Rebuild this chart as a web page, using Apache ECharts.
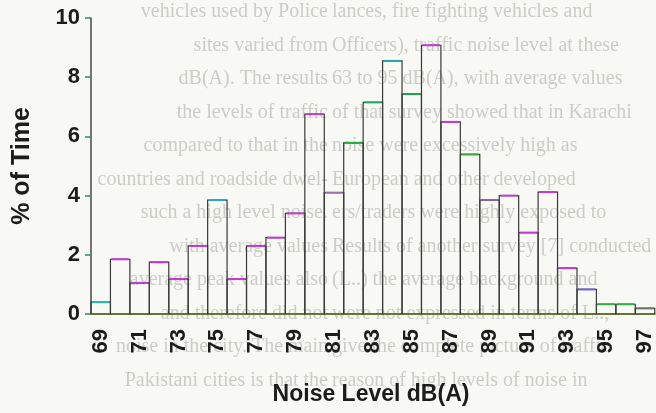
<!DOCTYPE html>
<html>
<head>
<meta charset="utf-8">
<script src="https://cdn.jsdelivr.net/npm/echarts@6/dist/echarts.min.js"></script>
<style>
html,body{margin:0;padding:0;background:#f8f8f4;}
#c{width:656px;height:413px;}
</style>
</head>
<body>
<div id="c"></div>
<script>
// Noise level categories dB(A)
const categories = ['69','70','71','72','73','74','75','76','77','78','79','80','81','82','83','84','85','86','87','88','89','90','91','92','93','94','95','96','97'];
// % of time
const percentTime = [0.4,1.85,1.05,1.75,1.18,2.3,3.85,1.18,2.3,2.58,3.4,6.75,4.1,5.78,7.15,8.55,7.43,9.08,6.49,5.39,3.85,4.0,2.75,4.12,1.55,0.83,0.33,0.33,0.19];
const yTicks = [0,2,4,6,8,10];
// colour fringe on each bar top (scan look)
const topColors = ['#2ab5ad','#c23ad2','#c23ad2','#c23ad2','#c23ad2','#c23ad2','#2aa6c4','#c23ad2','#c23ad2','#c23ad2','#c23ad2','#b548c0','#9a70a8','#22b045','#22a865','#22a8a0','#22a055','#c23ad2','#c23ad2','#3aa535','#8a62b2','#b848c4','#c23ad2','#c23ad2','#c23ad2','#6a62d2','#30b040','#30b040','#707070'];
// faint page text behind the figure
const pageTextLeft = ['vehicles used by Police','sites varied from','dB(A). The results','the levels of traffic','compared to that in the','countries and roadside dwel-','such a high level noise.','with average values','average peak values also','and therefore did not','noise in the city. The main','Pakistani cities is that the'];
const pageTextRight = ['lances, fire fighting vehicles and','Officers), traffic noise level at these','63 to 95 dB(A), with average values','of that survey showed that in Karachi','noise were excessively high as','European and other developed','ers/traders were highly exposed to','Results of another survey [7] conducted','(L..) the average background and','were not expressed in terms of L..,','give the complete picture of traffic','reason of high levels of noise in'];

const chart = echarts.init(document.getElementById('c'), null, {renderer:'canvas'});

const bgText = [];
pageTextLeft.forEach((t,i)=>{
  bgText.push({type:'text', silent:true, z:-10, x:328, y:12+33.5*i,
    style:{text:t, fill:'#cdcdc8', font:'20px "Liberation Serif"', align:'right', verticalAlign:'middle'}});
});
pageTextRight.forEach((t,i)=>{
  bgText.push({type:'text', silent:true, z:-10, x:332, y:12+33.5*i,
    style:{text:t, fill:'#cdcdc8', font:'20px "Liberation Serif"', align:'left', verticalAlign:'middle'}});
});
bgText.push({type:'text', silent:true, x:22, y:166, rotation:Math.PI/2,
  style:{text:'% of Time', fill:'#1c1c1c', font:'bold 25px "Liberation Sans"', align:'center', verticalAlign:'middle'}});
bgText.push({type:'text', silent:true, x:371, y:395,
  style:{text:'Noise Level dB(A)', fill:'#1c1c1c', font:'bold 23px "Liberation Sans"', align:'center', verticalAlign:'middle'}});

chart.setOption({
  backgroundColor:'#f8f8f4',
  animation:false,
  graphic: bgText,
  grid:{left:91, right:0, top:18, bottom:99, containLabel:false},
  xAxis:{
    type:'category', data:categories, boundaryGap:true,
    axisLine:{show:true, lineStyle:{color:'#8db52a', width:2}},
    axisTick:{show:false},
    axisLabel:{interval:1, rotate:90, margin:15, color:'#1c1c1c',
      fontFamily:'Liberation Sans', fontWeight:'bold', fontSize:22},
    splitLine:{show:false}
  },
  yAxis:{
    type:'value', min:0, max:10, interval:2,
    axisLine:{show:true, lineStyle:{color:'#4a4a4a', width:1.5}},
    axisTick:{show:true, length:6, lineStyle:{color:'#2a8a6a', width:1.5}},
    axisLabel:{margin:11, color:'#1c1c1c', fontFamily:'Liberation Sans', fontWeight:'bold', fontSize:22,
      formatter:(v)=> yTicks.indexOf(v) >= 0 ? String(v) : ''},
    splitLine:{show:false}
  },
  series:[{
    type:'custom',
    data: percentTime.map((v,i)=>[i,v]),
    renderItem:function(params, api){
      const i = api.value(0), v = api.value(1);
      const top = api.coord([i, v]);
      const base = api.coord([i, 0]);
      const w = api.size([1,0])[0];
      const x0 = top[0]-w/2, x1 = top[0]+w/2;
      return {type:'group', children:[
        {type:'rect', shape:{x:x0, y:top[1], width:w, height:base[1]-top[1]},
          style:{fill:'none', stroke:'#3a3a3a', lineWidth:1.2}},
        {type:'line', shape:{x1:x0+1, y1:top[1], x2:x1-1, y2:top[1]},
          style:{stroke:topColors[params.dataIndex], lineWidth:2}}
      ]};
    }
  }]
});
</script>
</body>
</html>
